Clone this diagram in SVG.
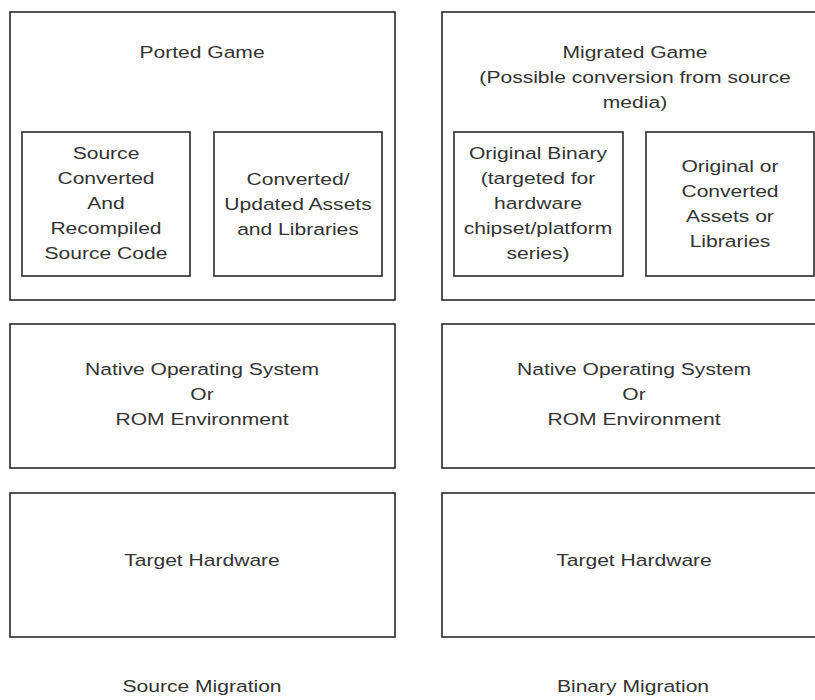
<svg xmlns="http://www.w3.org/2000/svg" width="815" height="700" viewBox="0 0 815 700">
<style>
.box{fill:none;stroke:#2a2a2a;stroke-width:1.6}
.t{font-family:"Liberation Sans",Arial,sans-serif;font-size:17px;fill:#333;text-anchor:middle}
</style>
<rect x="0" y="0" width="815" height="700" fill="#fff"/>
<g id="ported-game">
<rect class="box" x="10" y="12" width="385" height="288"/>
<text class="t" transform="translate(202,0) scale(1.24,1)"><tspan x="0" y="58">Ported Game</tspan></text>
</g>
<g id="source-code">
<rect class="box" x="22" y="132" width="168" height="144"/>
<text class="t" transform="translate(106,0) scale(1.24,1)"><tspan x="0" y="159">Source</tspan><tspan x="0" y="184">Converted</tspan><tspan x="0" y="209">And</tspan><tspan x="0" y="234">Recompiled</tspan><tspan x="0" y="259">Source Code</tspan></text>
</g>
<g id="converted-assets">
<rect class="box" x="214" y="132" width="168" height="144"/>
<text class="t" transform="translate(298,0) scale(1.24,1)"><tspan x="0" y="185">Converted/</tspan><tspan x="0" y="210">Updated Assets</tspan><tspan x="0" y="235">and Libraries</tspan></text>
</g>
<g id="os-left">
<rect class="box" x="10" y="324" width="385" height="144"/>
<text class="t" transform="translate(202,0) scale(1.24,1)"><tspan x="0" y="375">Native Operating System</tspan><tspan x="0" y="400">Or</tspan><tspan x="0" y="425">ROM Environment</tspan></text>
</g>
<g id="hw-left">
<rect class="box" x="10" y="493" width="385" height="144"/>
<text class="t" transform="translate(202,0) scale(1.24,1)"><tspan x="0" y="566">Target Hardware</tspan></text>
</g>
<g id="label-left">
<text class="t" transform="translate(202,0) scale(1.24,1)"><tspan x="0" y="692">Source Migration</tspan></text>
</g>
<g id="migrated-game">
<rect class="box" x="442" y="12" width="386" height="288"/>
<text class="t" transform="translate(635,0) scale(1.24,1)"><tspan x="0" y="58">Migrated Game</tspan><tspan x="0" y="83">(Possible conversion from source</tspan><tspan x="0" y="108">media)</tspan></text>
</g>
<g id="original-binary">
<rect class="box" x="454" y="132" width="169" height="144"/>
<text class="t" transform="translate(538,0) scale(1.24,1)"><tspan x="0" y="159">Original Binary</tspan><tspan x="0" y="184">(targeted for</tspan><tspan x="0" y="209">hardware</tspan><tspan x="0" y="234">chipset/platform</tspan><tspan x="0" y="259">series)</tspan></text>
</g>
<g id="original-assets">
<rect class="box" x="646" y="132" width="168" height="144"/>
<text class="t" transform="translate(730,0) scale(1.24,1)"><tspan x="0" y="172">Original or</tspan><tspan x="0" y="197">Converted</tspan><tspan x="0" y="222">Assets or</tspan><tspan x="0" y="247">Libraries</tspan></text>
</g>
<g id="os-right">
<rect class="box" x="442" y="324" width="386" height="144"/>
<text class="t" transform="translate(634,0) scale(1.24,1)"><tspan x="0" y="375">Native Operating System</tspan><tspan x="0" y="400">Or</tspan><tspan x="0" y="425">ROM Environment</tspan></text>
</g>
<g id="hw-right">
<rect class="box" x="442" y="493" width="386" height="144"/>
<text class="t" transform="translate(634,0) scale(1.24,1)"><tspan x="0" y="566">Target Hardware</tspan></text>
</g>
<g id="label-right">
<text class="t" transform="translate(633,0) scale(1.24,1)"><tspan x="0" y="692">Binary Migration</tspan></text>
</g>
<g id="connectors"></g>
</svg>
